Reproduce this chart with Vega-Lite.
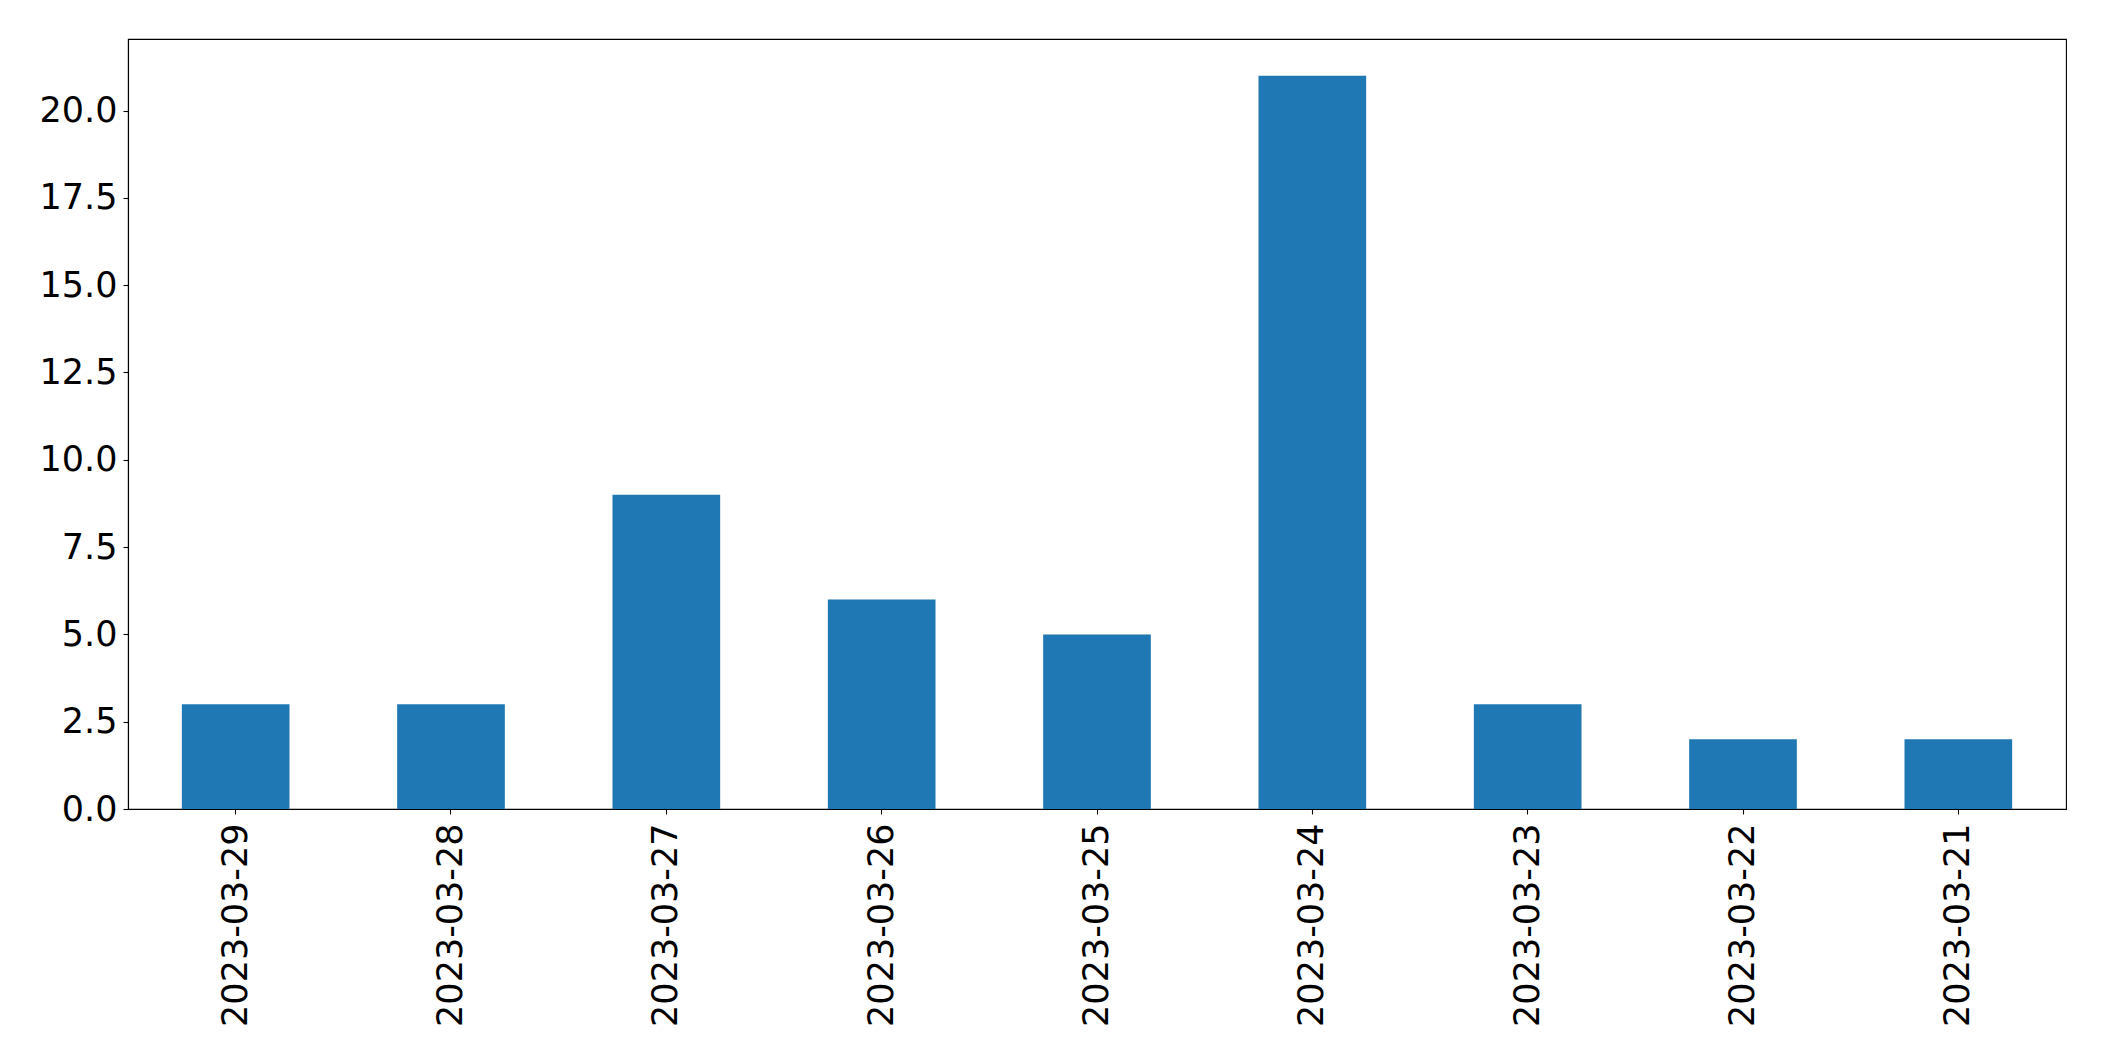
{
  "$schema": "https://vega.github.io/schema/vega-lite/v6.json",
  "autosize": {"type": "none"},
  "padding": {"left": 128, "top": 39, "right": 38, "bottom": 252},
  "width": 1938,
  "height": 770,
  "background": "white",
  "config": {
    "view": {"stroke": "black", "strokeWidth": 1.1},
    "font": "DejaVu Sans",
    "axis": {
      "labelFont": "DejaVu Sans",
      "labelFontSize": 35,
      "labelColor": "black",
      "labelLimit": 0,
      "domainColor": "black",
      "domainWidth": 1.1,
      "tickColor": "black",
      "tickWidth": 1.1,
      "tickSize": 5,
      "grid": false,
      "title": null
    }
  },
  "data": {
    "values": [
      {"date": "2023-03-29", "count": 3},
      {"date": "2023-03-28", "count": 3},
      {"date": "2023-03-27", "count": 9},
      {"date": "2023-03-26", "count": 6},
      {"date": "2023-03-25", "count": 5},
      {"date": "2023-03-24", "count": 21},
      {"date": "2023-03-23", "count": 3},
      {"date": "2023-03-22", "count": 2},
      {"date": "2023-03-21", "count": 2}
    ]
  },
  "mark": {"type": "bar", "color": "#1f77b4"},
  "encoding": {
    "x": {
      "field": "date",
      "type": "nominal",
      "sort": null,
      "scale": {"paddingInner": 0.5, "paddingOuter": 0.25},
      "axis": {"labelAngle": -90, "labelPadding": 9, "labelBaseline": "middle", "labelAlign": "right", "labelLimit": 0}
    },
    "y": {
      "field": "count",
      "type": "quantitative",
      "scale": {"domain": [0, 22.05], "nice": false, "zero": true},
      "axis": {
        "values": [0, 2.5, 5, 7.5, 10, 12.5, 15, 17.5, 20],
        "format": ".1f",
        "labelPadding": 6
      }
    }
  }
}
